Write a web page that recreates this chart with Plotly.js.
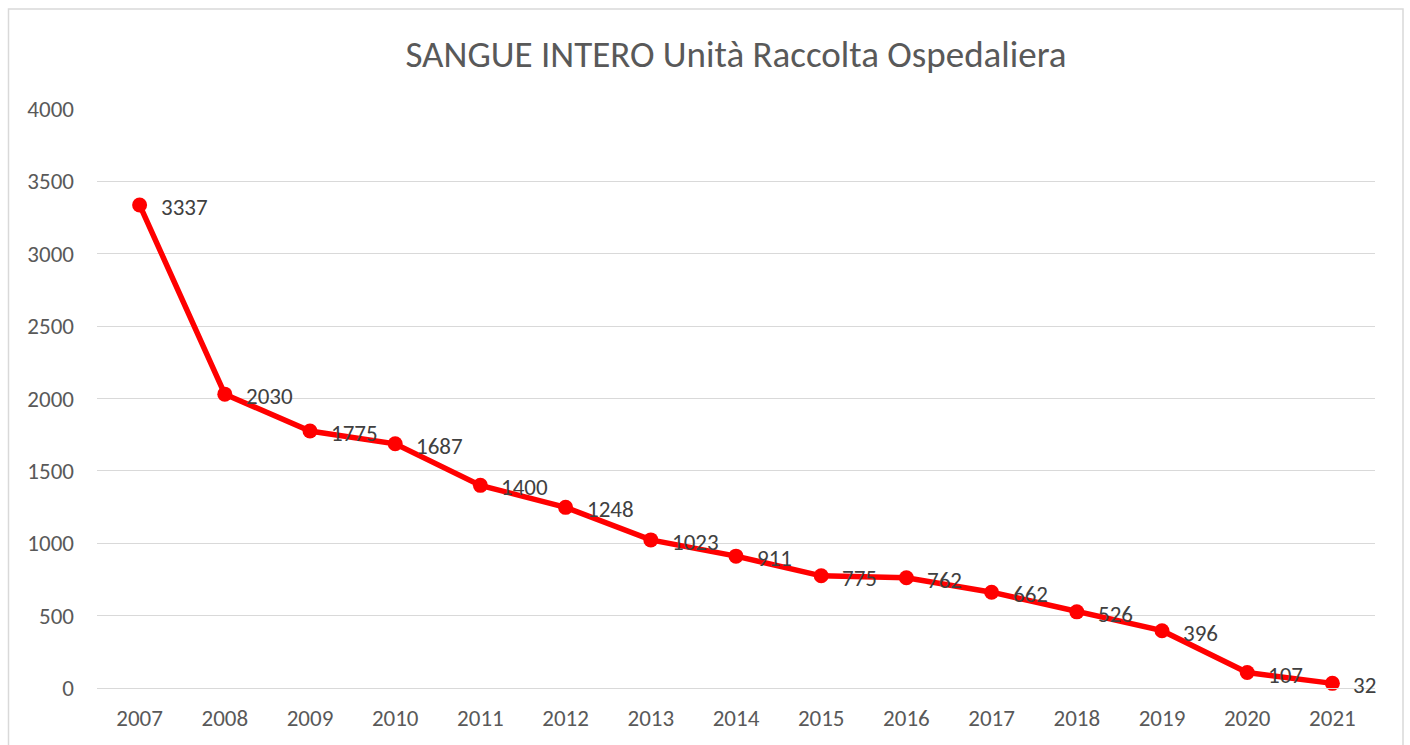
<!DOCTYPE html>
<html><head><meta charset="utf-8">
<script src="https://cdn.plot.ly/plotly-3.0.1.min.js"></script>
<style>html,body{margin:0;padding:0;background:#fff}#c{width:1410px;height:745px}</style>
</head><body><div id="c"></div>
<script>
const years = ['2007','2008','2009','2010','2011','2012','2013','2014','2015','2016','2017','2018','2019','2020','2021'];
const units = [3337,2030,1775,1687,1400,1248,1023,911,775,762,662,526,396,107,32];
const yTicks = [0,500,1000,1500,2000,2500,3000,3500,4000];
const chartTitle = 'SANGUE INTERO Unità Raccolta Ospedaliera';

const fontFam = 'Carlito, Calibri, "Open Sans", "Liberation Sans", sans-serif';
const labels = years.map((yr, i) => ({
  x: i, y: units[i], xref: 'x', yref: 'y', text: String(units[i]), showarrow: false,
  xanchor: 'left', yanchor: 'middle', xshift: 19, yshift: -2,
  font: {family: fontFam, size: 23, color: '#404040'}
}));
Plotly.newPlot('c', [{
  x: years, y: units, type: 'scatter', mode: 'lines+markers',
  line: {color: '#ff0000', width: 5.5},
  marker: {color: '#ff0000', size: 15},
  cliponaxis: false, hoverinfo: 'none'
}], {
  width: 1410, height: 745,
  margin: {l: 97, r: 35, t: 109, b: 57},
  paper_bgcolor: '#fff', plot_bgcolor: '#fff',
  font: {family: fontFam, color: '#595959'},
  title: {text: chartTitle, font: {family: fontFam, size: 37, color: '#595959'},
          x: 0.5, xref: 'paper', y: 1 - 54/745, yref: 'container', yanchor: 'middle'},
  showlegend: false,
  annotations: labels,
  xaxis: {type: 'category', range: [-0.5, years.length - 0.5], showgrid: false, zeroline: false,
          showline: true, linecolor: '#d9d9d9', linewidth: 1,
          ticks: '', tickfont: {size: 23, color: '#595959'}, ticklabelstandoff: 9, fixedrange: true},
  yaxis: {range: [0, 4000], tickvals: yTicks, showgrid: true, gridcolor: '#d9d9d9', gridwidth: 1,
          zeroline: false, showline: false, ticks: '', ticklen: 0, tickfont: {size: 23, color: '#595959'},
          ticklabelstandoff: 22, fixedrange: true},
  shapes: [{type: 'rect', xref: 'paper', yref: 'paper', x0: (8.5-97)/1278, x1: (1403-97)/1278,
            y0: -0.3, y1: (688-9)/579, line: {color: '#d9d9d9', width: 1.5}, fillcolor: 'rgba(0,0,0,0)', layer: 'below'}]
}, {staticPlot: true});
</script></body></html>
